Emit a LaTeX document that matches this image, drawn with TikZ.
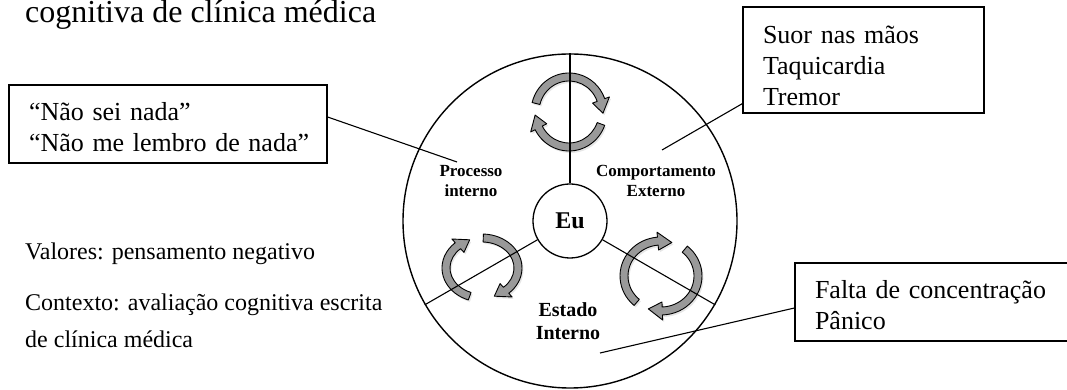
\documentclass[tikz,border=0pt]{standalone}
\usepackage{fontspec}
\setmainfont{Liberation Serif}
\usetikzlibrary{shadows}

\tikzset{
  box/.style={draw, line width=1.2pt, rectangle, inner xsep=20pt, inner ysep=0pt, align=left, font=\fontsize{26}{31}\selectfont},
  lbl/.style={align=center, inner sep=0pt, font=\bfseries\fontsize{17}{20}\selectfont},
  plain/.style={anchor=base west, align=left, inner sep=0pt, font=\fontsize{24}{37}\selectfont},
  cyc/.style={fill=black!40, draw=black, line width=0.9pt, line join=round, drop shadow={opacity=0.2, shadow xshift=1.5pt, shadow yshift=-2pt}},
}

% curved block arrow: centre, x radius, y radius, start angle, tip angle
\newcommand\cyclearrow[5]{%
  \filldraw[cyc, shift={(#1)}]
    ({#4}:{#2+4} and {#3+4}) arc[start angle=#4, end angle=#5+22, x radius=#2+4, y radius=#3+4]
    -- ({#5+22}:{#2+9} and {#3+9}) -- ({#5}:{#2} and {#3}) -- ({#5+22}:{#2-9} and {#3-9})
    -- ({#5+22}:{#2-4} and {#3-4}) arc[start angle=#5+22, end angle=#4, x radius=#2-4, y radius=#3-4]
    -- cycle;}

\begin{document}
\begin{tikzpicture}[x=1pt, y=1pt]
\clip (0,0) rectangle (1067,390);

\node[plain, font=\fontsize{32}{38}\selectfont] (titulo) at (25,367) {cognitiva de clínica médica};

\coordinate (topC) at (569,278);
\coordinate (leftC) at (482,122);
\coordinate (rightC) at (661,114);
\cyclearrow{topC}{34}{35}{166}{-2}
\cyclearrow{topC}{34}{35}{-20}{-175}
\cyclearrow{leftC}{36}{30}{250}{110}
\cyclearrow{leftC}{36}{30}{88}{-70}
\cyclearrow{rightC}{37}{35}{229}{73}
\cyclearrow{rightC}{37}{35}{50}{-110}

\node[circle, draw, line width=1.4pt, minimum size=334, inner sep=0pt] (big) at (570,169) {};
\node[circle, draw, line width=1.3pt, minimum size=74, inner sep=0pt, font=\bfseries\fontsize{24}{24}\selectfont] (eu) at (570,169) {Eu};
\draw[line width=1.1pt] (eu.90) -- (big.90);
\draw[line width=1.1pt] (eu.210) -- (big.210);
\draw[line width=1.1pt] (eu.330) -- (big.330);

\node[lbl] (proc) at (471,209) {Processo\\interno};
\node[lbl] (comp) at (656,209) {Comportamento\\Externo};
\node[lbl, font=\bfseries\fontsize{20}{23}\selectfont] (estado) at (568,69) {Estado\\Interno};

\node[box, text width=278, minimum height=78] (pensa) at (168,266) {\rule{0pt}{25pt}\mbox{“Não sei nada”}\\\mbox{“Não me lembro de nada”}};
\node[box, text width=201, minimum height=106] (sinais) at (863.5,330) {\rule{0pt}{30pt}\mbox{Suor nas mãos}\\Taquicardia\\Tremor};
\node[box, text width=240, minimum height=78] (falta) at (935,88) {\rule{0pt}{25pt}\mbox{Falta de concentração}\\Pânico};

\coordinate (pinPI) at (457,228);
\coordinate (pinCE) at (662,240);
\coordinate (pinEI) at (600,37);
\draw[line width=1.1pt] ([yshift=7]pensa.east) -- (pinPI);
\draw[line width=1.1pt] ([yshift=10]sinais.south west) -- (pinCE);
\draw[line width=1.1pt] ([yshift=-6]falta.west) -- (pinEI);

\node[plain] (valores) at (25,130) {Valores: pensamento negativo};
\node[plain] (contexto) at (25,42) {Contexto: avaliação cognitiva escrita\\de clínica médica};
\end{tikzpicture}
\end{document}
